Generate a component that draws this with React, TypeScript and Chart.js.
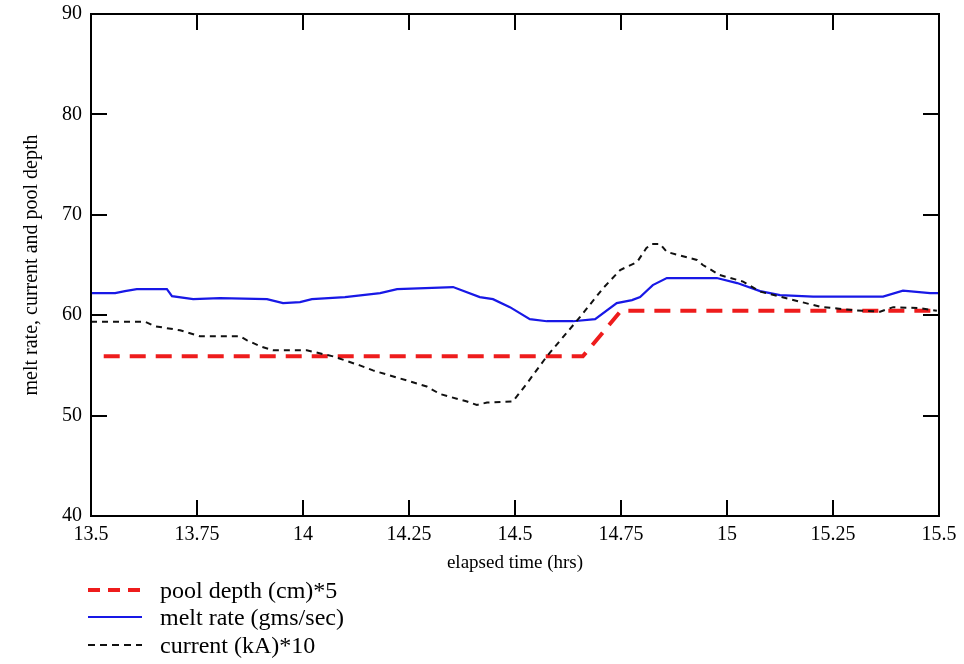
import React, { useEffect, useRef } from "react";
import { Chart, registerables } from "chart.js";

Chart.register(...registerables);

// ---- data ----
const xTickValues = [13.5, 13.75, 14, 14.25, 14.5, 14.75, 15, 15.25, 15.5];
const xTickLabels = ["13.5", "13.75", "14", "14.25", "14.5", "14.75", "15", "15.25", "15.5"];
const yTickValues = [40, 50, 60, 70, 80, 90];
const yTickLabels = ["40", "50", "60", "70", "80", "90"];

const poolTimes = [13.53, 14.66, 14.75, 15.5];
const poolValues = [55.9, 55.9, 60.45, 60.45];

const meltTimes = [
  13.5, 13.557, 13.58, 13.608, 13.679, 13.691, 13.741, 13.804, 13.915, 13.953, 13.993,
  14.021, 14.099, 14.182, 14.222, 14.354, 14.417, 14.448, 14.488, 14.535, 14.575, 14.637,
  14.689, 14.74, 14.776, 14.795, 14.825, 14.858, 14.976, 15.024, 15.078, 15.125, 15.203,
  15.368, 15.415, 15.479, 15.5,
];
const meltValues = [
  62.2, 62.2, 62.4, 62.6, 62.6, 61.9, 61.6, 61.7, 61.6, 61.2, 61.3,
  61.6, 61.8, 62.2, 62.6, 62.8, 61.8, 61.6, 60.8, 59.6, 59.4, 59.4,
  59.6, 61.2, 61.5, 61.8, 63.0, 63.7, 63.7, 63.2, 62.4, 62.0, 61.85,
  61.85, 62.45, 62.2, 62.2,
];

const currentTimes = [
  13.5, 13.627, 13.651, 13.71, 13.757, 13.851, 13.868, 13.899, 13.929, 13.969, 14.009,
  14.071, 14.134, 14.165, 14.229, 14.292, 14.323, 14.387, 14.41, 14.434, 14.495, 14.528,
  14.575, 14.623, 14.653, 14.708, 14.748, 14.788, 14.81, 14.823, 14.842, 14.858, 14.929,
  14.943, 14.983, 15.038, 15.078, 15.125, 15.172, 15.219, 15.297, 15.361, 15.392, 15.455,
  15.495,
];
const currentValues = [
  59.35, 59.35, 58.9, 58.5, 57.9, 57.9, 57.5, 56.9, 56.5, 56.5, 56.5,
  55.9, 55.0, 54.5, 53.7, 52.9, 52.15, 51.4, 51.05, 51.3, 51.4, 53.2,
  55.9, 58.3, 59.8, 62.7, 64.5, 65.3, 66.7, 67.1, 67.1, 66.3, 65.5,
  65.0, 64.0, 63.35, 62.35, 61.85, 61.35, 60.85, 60.5, 60.35, 60.8, 60.7,
  60.45,
];

const seriesLabels = ["pool depth (cm)*5", "melt rate (gms/sec)", "current (kA)*10"];
const xTitle = "elapsed time (hrs)";
const yTitle = "melt rate, current and pool depth";

const SERIF = "'Liberation Serif', 'Times New Roman', serif";

const framePlugin = {
  id: "frame",
  afterDraw(chart: any) {
    const { ctx, chartArea: a, scales } = chart;
    ctx.save();
    ctx.strokeStyle = "#000";
    ctx.lineWidth = 2;
    ctx.setLineDash([]);
    const line = (x1: number, y1: number, x2: number, y2: number) => {
      ctx.beginPath();
      ctx.moveTo(x1, y1);
      ctx.lineTo(x2, y2);
      ctx.stroke();
    };
    const L = 16;
    xTickValues.slice(1, -1).forEach((v) => {
      const px = Math.round(scales.x.getPixelForValue(v));
      line(px, a.bottom, px, a.bottom - L);
      line(px, a.top, px, a.top + L);
    });
    yTickValues.slice(1, -1).forEach((v) => {
      const py = Math.round(scales.y.getPixelForValue(v));
      line(a.left, py, a.left + L, py);
      line(a.right, py, a.right - L, py);
    });
    ctx.strokeRect(a.left, a.top, a.right - a.left, a.bottom - a.top);
    ctx.restore();
  },
};

function LegendRow({ top, color, dash, width, label }: any) {
  return (
    <div
      style={{
        position: "absolute",
        left: 86,
        top: top - 14,
        height: 28,
        display: "flex",
        alignItems: "center",
      }}
    >
      <svg width={58} height={28} style={{ display: "block" }}>
        <line
          x1={2}
          y1={14}
          x2={56}
          y2={14}
          stroke={color}
          strokeWidth={width}
          strokeDasharray={dash}
        />
      </svg>
      <span
        style={{
          marginLeft: 16,
          fontFamily: SERIF,
          fontSize: 24,
          lineHeight: "28px",
          color: "#000",
          whiteSpace: "nowrap",
        }}
      >
        {label}
      </span>
    </div>
  );
}

export default function App() {
  const ref = useRef<HTMLCanvasElement | null>(null);

  useEffect(() => {
    if (!ref.current) return;
    const toPts = (xs: number[], ys: number[]) => xs.map((x, i) => ({ x, y: ys[i] }));
    const chart = new Chart(ref.current, {
      type: "line",
      data: {
        datasets: [
          {
            label: seriesLabels[2],
            data: toPts(currentTimes, currentValues),
            borderColor: "#111",
            borderWidth: 2,
            borderDash: [6, 5],
            pointRadius: 0,
            tension: 0,
            fill: false,
          },
          {
            label: seriesLabels[1],
            data: toPts(meltTimes, meltValues),
            borderColor: "#1818e6",
            borderWidth: 2.2,
            pointRadius: 0,
            tension: 0,
            fill: false,
          },
          {
            label: seriesLabels[0],
            data: toPts(poolTimes, poolValues),
            borderColor: "#ee1c1c",
            borderWidth: 4,
            borderDash: [16, 10],
            pointRadius: 0,
            tension: 0,
            fill: false,
          },
        ],
      },
      options: {
        animation: false,
        responsive: false,
        maintainAspectRatio: false,
        layout: { padding: { left: 0, right: 25, top: 14, bottom: 0 } },
        plugins: { legend: { display: false }, tooltip: { enabled: false } },
        scales: {
          x: {
            type: "linear",
            min: 13.5,
            max: 15.5,
            grid: { display: false, drawTicks: false },
            border: { display: false },
            afterBuildTicks: (s: any) => {
              s.ticks = xTickValues.map((v) => ({ value: v }));
            },
            afterFit: (s: any) => {
              s.height = 148;
              s.paddingLeft = 0;
              s.paddingRight = 0;
            },
            ticks: {
              autoSkip: false,
              maxRotation: 0,
              padding: 7,
              color: "#000",
              font: { family: SERIF, size: 20 },
              callback: (v: any) => xTickLabels[xTickValues.indexOf(Number(v))] ?? "",
            },
            title: {
              display: true,
              text: xTitle,
              color: "#000",
              font: { family: SERIF, size: 19 },
              padding: { top: 4, bottom: 90 },
            },
          },
          y: {
            type: "linear",
            min: 40,
            max: 90,
            grid: { display: false, drawTicks: false },
            border: { display: false },
            afterBuildTicks: (s: any) => {
              s.ticks = yTickValues.map((v) => ({ value: v }));
            },
            afterFit: (s: any) => {
              s.width = 91;
              s.paddingTop = 0;
              s.paddingBottom = 0;
            },
            ticks: {
              autoSkip: false,
              padding: 9,
              color: "#000",
              font: { family: SERIF, size: 20 },
              callback: (v: any) => yTickLabels[yTickValues.indexOf(Number(v))] ?? "",
            },
            title: {
              display: true,
              text: yTitle,
              color: "#000",
              font: { family: SERIF, size: 20 },
              padding: { top: 20, bottom: 0 },
            },
          },
        },
      },
      plugins: [framePlugin],
    } as any);
    return () => chart.destroy();
  }, []);

  return (
    <div
      style={{
        position: "absolute",
        left: 0,
        top: 0,
        width: 964,
        height: 664,
        background: "#fff",
        overflow: "hidden",
      }}
    >
      <canvas ref={ref} width={964} height={664} style={{ width: 964, height: 664, display: "block" }} />
      <LegendRow top={590} color="#ee1c1c" dash="12 8" width={4} label={seriesLabels[0]} />
      <LegendRow top={617} color="#1818e6" dash="" width={2} label={seriesLabels[1]} />
      <LegendRow top={645} color="#111" dash="7 5" width={2} label={seriesLabels[2]} />
    </div>
  );
}
